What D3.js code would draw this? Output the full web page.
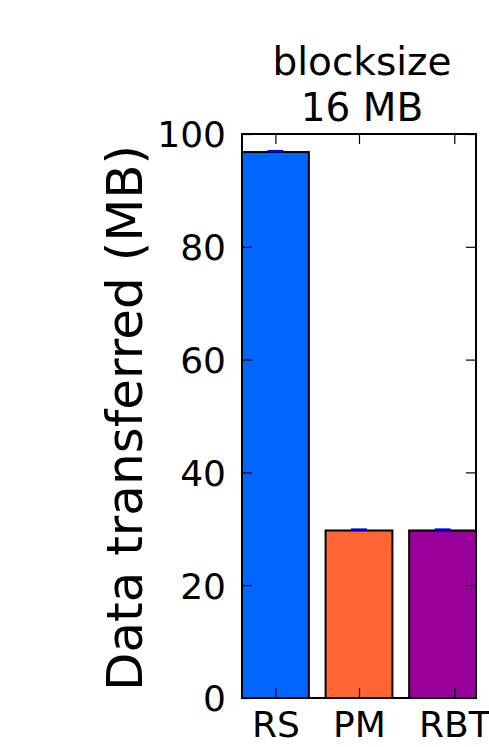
<!DOCTYPE html>
<html>
<head>
<meta charset="utf-8">
<script src="https://cdn.jsdelivr.net/npm/d3@7"></script>
<style>
  body { margin: 0; background: #fff; overflow: hidden; }
  text { font-family: "DejaVu Sans", sans-serif; fill: #000; }
</style>
</head>
<body>
<script>
var categories = ['RS', 'PM', 'RBT'];
var values = [96.8, 29.7, 29.7];
var errors = [0.15, 0.15, 0.15];
var colors = ['#0066ff', '#ff6633', '#990099'];
var xTickPositions = [0.4, 1.4, 2.54];
var yTicks = [0, 20, 40, 60, 80, 100];
var titleLines = ['blocksize', '16 MB'];
var yLabel = 'Data transferred (MB)';

(function () {
    var width = 489,
        height = 747,
        plot = { left: 242, right: 476, top: 134, bottom: 698 },
        barWidth = 0.8,
        tickLen = 10;

    var svg = d3.select('body').append('svg')
        .attr('width', width)
        .attr('height', height);

    var x = d3.scaleLinear()
        .domain([0, categories.length - 1 + barWidth])
        .range([plot.left, plot.right]);

    var y = d3.scaleLinear()
        .domain([0, 100])
        .range([plot.bottom, plot.top]);

    // bars
    svg.selectAll('rect.bar')
        .data(values)
        .enter().append('rect')
        .attr('class', 'bar')
        .attr('x', function (d, i) { return x(i); })
        .attr('y', function (d) { return y(d); })
        .attr('width', function (d, i) { return x(i + barWidth) - x(i); })
        .attr('height', function (d) { return y(0) - y(d); })
        .attr('fill', function (d, i) { return colors[i]; })
        .attr('stroke', '#000')
        .attr('stroke-width', 2);

    // error bars (tiny)
    svg.selectAll('line.err')
        .data(values)
        .enter().append('line')
        .attr('class', 'err')
        .attr('x1', function (d, i) { return x(i + barWidth / 2) - 8; })
        .attr('x2', function (d, i) { return x(i + barWidth / 2) + 8; })
        .attr('y1', function (d, i) { return y(d + errors[i]); })
        .attr('y2', function (d, i) { return y(d + errors[i]); })
        .attr('stroke', '#0000dd')
        .attr('stroke-width', 2.5);

    // frame
    svg.append('rect')
        .attr('x', plot.left)
        .attr('y', plot.top)
        .attr('width', plot.right - plot.left)
        .attr('height', plot.bottom - plot.top)
        .attr('fill', 'none')
        .attr('stroke', '#000')
        .attr('stroke-width', 2);

    // y axis: ticks inside both sides
    var yAxisL = d3.axisLeft(y).tickValues(yTicks).tickSize(-tickLen).tickPadding(16);
    var gL = svg.append('g')
        .attr('transform', 'translate(' + plot.left + ',0)')
        .call(yAxisL);
    var yAxisR = d3.axisRight(y).tickValues(yTicks).tickSize(-tickLen).tickFormat('');
    var gR = svg.append('g')
        .attr('transform', 'translate(' + plot.right + ',0)')
        .call(yAxisR);

    // x axis
    var xAxisB = d3.axisBottom(x).tickValues(xTickPositions).tickSize(-tickLen).tickPadding(16)
        .tickFormat(function (d, i) { return categories[i]; });
    var gB = svg.append('g')
        .attr('transform', 'translate(0,' + plot.bottom + ')')
        .call(xAxisB);
    var xAxisT = d3.axisTop(x).tickValues(xTickPositions).tickSize(-tickLen).tickFormat('');
    var gT = svg.append('g')
        .attr('transform', 'translate(0,' + plot.top + ')')
        .call(xAxisT);

    [gL, gR, gB, gT].forEach(function (g) {
        g.select('.domain').remove();
        g.selectAll('.tick line').attr('stroke', '#000').attr('stroke-width', 1.2);
        g.selectAll('text')
            .style('font-family', '"DejaVu Sans", sans-serif')
            .style('font-size', '36px')
            .attr('fill', '#000');
    });
    gL.selectAll('text').attr('dy', '0.36em');
    gB.selectAll('text').attr('dy', '0.64em');

    // y label
    svg.append('text')
        .attr('transform', 'translate(142,' + ((plot.top + plot.bottom) / 2 + 2) + ') rotate(-90)')
        .attr('text-anchor', 'middle')
        .style('font-size', '50px')
        .text(yLabel);

    // title
    svg.append('g').selectAll('text')
        .data(titleLines)
        .enter().append('text')
        .attr('x', (plot.left + plot.right) / 2 + 3)
        .attr('y', function (d, i) { return 75 + i * 46; })
        .attr('text-anchor', 'middle')
        .style('font-size', '39px')
        .text(function (d) { return d; });
}());
</script>
</body>
</html>
